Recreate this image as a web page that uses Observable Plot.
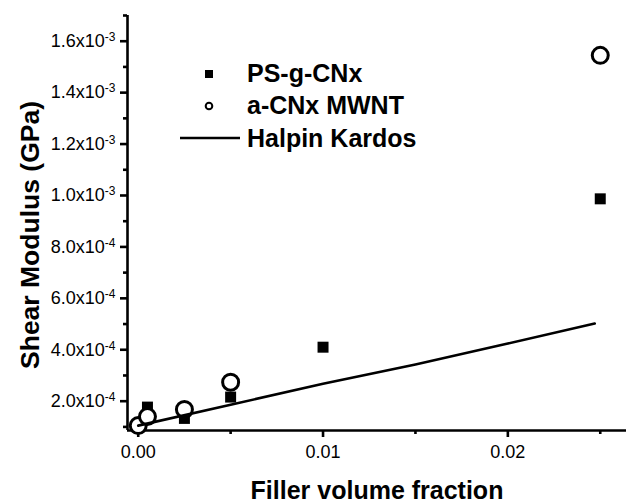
<!DOCTYPE html>
<html><head><meta charset="utf-8">
<script src="https://cdn.jsdelivr.net/npm/d3@7"></script>
<script src="https://cdn.jsdelivr.net/npm/@observablehq/plot@0.6"></script>
<style>body{margin:0;background:#fff;} #chart{width:626px;height:503px;}</style>
</head><body><div id="chart"></div>
<script>
// Data
const psFractions = [0.0005, 0.0025, 0.005, 0.01, 0.025];
const psgcnx = [1.77e-4, 1.33e-4, 2.16e-4, 4.10e-4, 9.87e-4];
const mwntFractions = [0, 0.0005, 0.0025, 0.005, 0.025];
const mwnt = [1.05e-4, 1.40e-4, 1.68e-4, 2.74e-4, 1.545e-3];
const hkFractions = [0, 0.005, 0.01, 0.015, 0.02, 0.0247];
const halpinKardos = [1.05e-4, 1.86e-4, 2.68e-4, 3.43e-4, 4.24e-4, 5.02e-4];

const xMajor = [0, 0.01, 0.02];
const xMajorLabels = ["0.00", "0.01", "0.02"];
const xMinor = [0.005, 0.015, 0.025];
const yMajor = [2e-4, 4e-4, 6e-4, 8e-4, 1e-3, 1.2e-3, 1.4e-3, 1.6e-3];
const yMajorLabels = ["2.0x10|-4", "4.0x10|-4", "6.0x10|-4", "8.0x10|-4", "1.0x10|-3", "1.2x10|-3", "1.4x10|-3", "1.6x10|-3"];
const yMinor = [1e-4, 3e-4, 5e-4, 7e-4, 9e-4, 1.1e-3, 1.3e-3, 1.5e-3, 1.7e-3];
const xDomain = [-0.00058, 0.02642];
const yDomain = [0.86e-4, 1.7e-3];
const seriesNames = ["PS-g-CNx", "a-CNx MWNT", "Halpin Kardos"];
const xTitle = "Filler volume fraction";
const yTitle = "Shear Modulus (GPa)";

const psData = psFractions.map((f, i) => ({f, v: psgcnx[i]}));
const mwntData = mwntFractions.map((f, i) => ({f, v: mwnt[i]}));
const hkData = hkFractions.map((f, i) => ({f, v: halpinKardos[i]}));

const font = "'Liberation Sans', Arial, Helvetica, sans-serif";
const sw = 2.6;

const chart = Plot.plot({
  width: 626, height: 503,
  marginLeft: 127, marginRight: 0, marginTop: 15, marginBottom: 73,
  style: {fontFamily: font, background: "#fff", color: "#000"},
  x: {domain: xDomain, axis: null},
  y: {domain: yDomain, axis: null},
  marks: [
    Plot.axisY(yMinor, {anchor: "left", tickSize: 4, strokeWidth: sw, stroke: "#000", tickFormat: () => "", label: null}),
    Plot.axisY(yMajor, {anchor: "left", tickSize: 7, tickPadding: 5, strokeWidth: sw, stroke: "#000", fontSize: 18, fill: "#000", label: null,
      tickFormat: d => yMajorLabels[yMajor.indexOf(d)]}),
    Plot.axisX(xMinor, {anchor: "bottom", tickSize: 4, strokeWidth: sw, stroke: "#000", tickFormat: () => "", label: null}),
    Plot.axisX(xMajor, {anchor: "bottom", tickSize: 7, tickPadding: 8, strokeWidth: sw, stroke: "#000", fontSize: 18, fill: "#000", label: null,
      tickFormat: d => xMajorLabels[xMajor.indexOf(d)]}),
    Plot.ruleX([xDomain[0]], {strokeWidth: sw, stroke: "#000"}),
    Plot.ruleY([yDomain[0]], {strokeWidth: sw, stroke: "#000"}),
    Plot.dot(psData, {x: "f", y: "v", symbol: "square", fill: "#000", r: 6.2}),
    Plot.dot(mwntData, {x: "f", y: "v", symbol: "circle", fill: "#fff", stroke: "#000", strokeWidth: 3, r: 8}),
    Plot.line(hkData, {x: "f", y: "v", stroke: "#000", strokeWidth: sw}),
    Plot.text([xTitle], {frameAnchor: "bottom", dy: 60, fontSize: 25, fontWeight: "bold", fill: "#000", lineAnchor: "middle", textAnchor: "middle"}),
    Plot.text([yTitle], {frameAnchor: "left", rotate: -90, textAnchor: "middle", lineAnchor: "middle", dx: -97, dy: 12, fontSize: 26.5, fontWeight: "bold", fill: "#000"})
  ]
});

document.getElementById("chart").appendChild(chart);
const svg = d3.select(chart);

// superscript exponents on y tick labels
svg.selectAll('text').each(function() {
  const t = d3.select(this);
  const parts = t.text().split("|");
  if (parts.length !== 2) return;
  t.text(null);
  t.append("tspan").text(parts[0]);
  t.append("tspan").attr("font-size", 12).attr("dy", -6).text(parts[1]);
});

// legend inside the plot
const lg = svg.append("g").attr("font-family", font).attr("font-size", 25).attr("font-weight", "bold").attr("fill", "#000").attr("text-anchor", "start");
lg.append("rect").attr("x", 205).attr("y", 70).attr("width", 8).attr("height", 8).attr("fill", "#000");
lg.append("text").attr("x", 247).attr("y", 82).text(seriesNames[0]);
lg.append("circle").attr("cx", 209).attr("cy", 106).attr("r", 3.3).attr("fill", "#fff").attr("stroke", "#000").attr("stroke-width", 2);
lg.append("text").attr("x", 247).attr("y", 114).text(seriesNames[1]);
lg.append("line").attr("x1", 180).attr("x2", 240).attr("y1", 138).attr("y2", 138).attr("stroke", "#000").attr("stroke-width", sw);
lg.append("text").attr("x", 247).attr("y", 147).text(seriesNames[2]);
</script>
</body></html>
